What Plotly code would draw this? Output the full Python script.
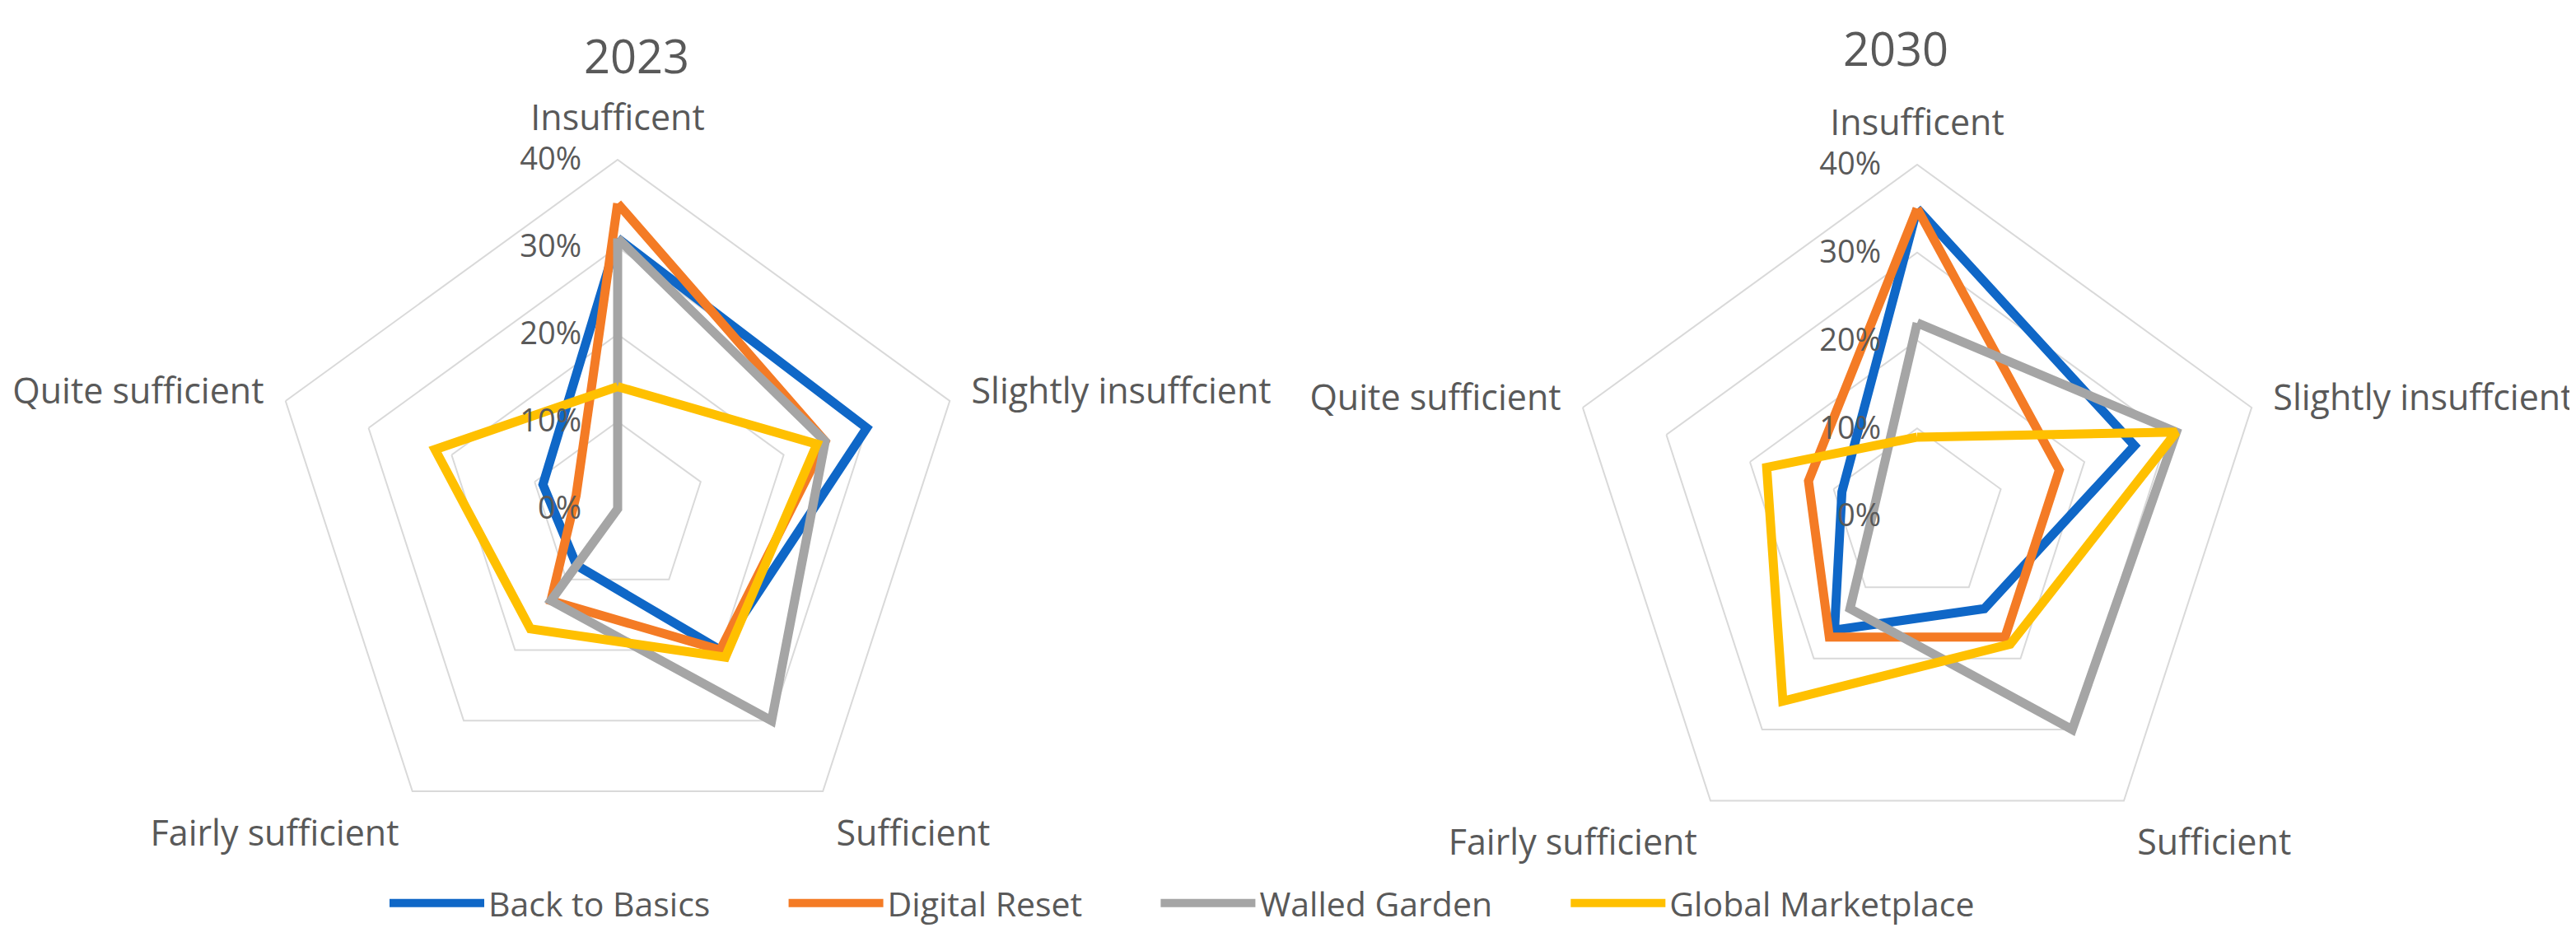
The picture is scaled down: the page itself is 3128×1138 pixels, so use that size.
import plotly.graph_objects as go

# categories (axis spokes), clockwise from the top
categories = ["Insufficent", "Slightly insuffcient", "Sufficient", "Fairly sufficient", "Quite sufficient"]
scenarios = ["Back to Basics", "Digital Reset", "Walled Garden", "Global Marketplace"]
colors = ["#0F67C7", "#F47B25", "#A5A5A5", "#FFC000"]

# share of respondents (%) per category, 2023
back_to_basics_2023 = [31, 30, 20, 8, 9]
digital_reset_2023 = [35, 25, 20, 13, 5]
walled_garden_2023 = [31, 25, 30, 13, 0]
global_marketplace_2023 = [14, 24, 21, 17, 22]

# share of respondents (%) per category, 2030
back_to_basics_2030 = [35, 26, 13, 16, 9]
digital_reset_2030 = [35, 17, 17, 17, 13]
walled_garden_2030 = [22, 31, 30, 13, 5]
global_marketplace_2030 = [9, 31, 18, 26, 18]

radial_ticks = [0, 10, 20, 30, 40]
radial_labels = ["0%", "10%", "20%", "30%", "40%"]

data_2023 = [back_to_basics_2023, digital_reset_2023, walled_garden_2023, global_marketplace_2023]
data_2030 = [back_to_basics_2030, digital_reset_2030, walled_garden_2030, global_marketplace_2030]

W, H = 3128, 1138
TXT = "#595959"
FONT = "Open Sans"
PAD = "\u00a0" * 8  # gap between legend entries

fig = go.Figure()

for polar, data, show in [("polar", data_2023, True), ("polar2", data_2030, False)]:
    for i, (name, vals, color) in enumerate(zip(scenarios, data, colors)):
        label = name if i == len(scenarios) - 1 else name + PAD
        fig.add_trace(go.Scatterpolar(
            r=vals + vals[:1],
            theta=categories + categories[:1],
            mode="lines",
            name=label,
            legendgroup=name,
            showlegend=show,
            line=dict(color=color, width=11),
            subplot=polar,
        ))


def polar_layout(cx, cy, rad):
    # domain from pixel centre and radius
    return dict(
        domain=dict(x=[(cx - rad) / W, (cx + rad) / W],
                    y=[1 - (cy + rad) / H, 1 - (cy - rad) / H]),
        gridshape="linear",
        bgcolor="white",
        radialaxis=dict(
            range=[0, 40], tickmode="array", tickvals=radial_ticks, ticktext=radial_labels,
            angle=90, tickangle=90, side="counterclockwise",
            showline=False, gridcolor="#D9D9D9", gridwidth=2,
            ticks="outside", ticklen=30, tickcolor="rgba(0,0,0,0)",
            tickfont=dict(family=FONT, size=38, color=TXT),
        ),
        angularaxis=dict(
            rotation=90, direction="clockwise",
            showgrid=False, showline=True, linecolor="#D9D9D9", linewidth=2,
            ticks="outside", ticklen=18, tickcolor="rgba(0,0,0,0)",
            tickfont=dict(family=FONT, size=43, color=TXT),
        ),
    )


fig.update_layout(
    width=W, height=H,
    margin=dict(l=0, r=0, t=0, b=0),
    paper_bgcolor="white",
    font=dict(family=FONT, color=TXT),
    polar=polar_layout(742, 610, 424),
    polar2=polar_layout(2320, 619, 427),
    legend=dict(
        orientation="h", x=460 / W, xanchor="left", y=0.043, yanchor="middle",
        font=dict(family=FONT, size=41, color=TXT),
        itemwidth=115,
        bgcolor="rgba(0,0,0,0)",
    ),
    annotations=[
        dict(text="2023", x=765 / W, y=1 - 59 / H, xref="paper", yref="paper",
             xanchor="center", yanchor="middle",
             showarrow=False, font=dict(family=FONT, size=56, color=TXT)),
        dict(text="2030", x=2294 / W, y=1 - 50 / H, xref="paper", yref="paper",
             xanchor="center", yanchor="middle",
             showarrow=False, font=dict(family=FONT, size=56, color=TXT)),
    ],
)

fig.write_html("out.html")
